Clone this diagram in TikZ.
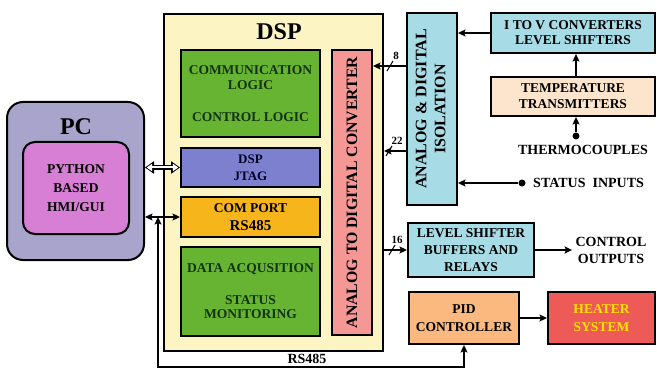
\documentclass[tikz,border=0pt]{standalone}
\usepackage{fontspec}
\setmainfont{Liberation Serif}
\usetikzlibrary{positioning,arrows.meta}

\definecolor{pcgray}{HTML}{A9A4CC}
\definecolor{guipink}{HTML}{D77FD4}
\definecolor{dspyel}{HTML}{FDF4C4}
\definecolor{logicgreen}{HTML}{66B432}
\definecolor{jtagblue}{HTML}{7C80CF}
\definecolor{comorange}{HTML}{F7B51C}
\definecolor{adcred}{HTML}{F59895}
\definecolor{isocyan}{HTML}{A7DCE6}
\definecolor{tempbeige}{HTML}{FDE4CC}
\definecolor{pidorange}{HTML}{FBB980}
\definecolor{heatred}{HTML}{EE5A57}
\definecolor{heatyel}{HTML}{FFE500}
\definecolor{darkgrn}{HTML}{143214}

\tikzset{
  blk/.style={draw, line width=2pt, align=center, inner sep=2pt,
    font=\bfseries\fontsize{13.5}{16}\selectfont},
  title/.style={font=\bfseries\fontsize{24}{26}\selectfont},
  lbl/.style={align=center, font=\bfseries\fontsize{14}{17}\selectfont},
  buslbl/.style={font=\bfseries\fontsize{11}{12}\selectfont},
  tip/.tip={Stealth[length=7.5pt,width=7pt,inset=1.5pt]},
  conn/.style={line width=1.5pt, -tip},
  both/.style={line width=1.5pt, tip-tip},
  dot/.style={circle, fill, inner sep=0pt, minimum size=7pt},
  busmark/.style={line width=1pt},
}

\begin{document}
\begin{tikzpicture}[x=1pt, y=-1pt]
\useasboundingbox (0,0) rectangle (657,369);

  % PC with the operator interface
  \node[blk, fill=pcgray, rounded corners=16pt, minimum width=137, minimum height=158] (pc) at (75.5,181) {};
  \node[title] (pctitle) at (76,127) {PC};
  \node[blk, fill=guipink, rounded corners=12pt, minimum width=106, minimum height=92,
    font=\bfseries\fontsize{13.5}{19}\selectfont] (gui) at (76,188) {PYTHON\\BASED\\HMI/GUI};

  % DSP and its blocks
  \node[blk, fill=dspyel, minimum width=219, minimum height=337] (dsp) at (273.5,182.5) {};
  \node[title] (dsptitle) at (279,32) {DSP};
  \node[blk, fill=logicgreen, text=darkgrn, minimum width=139, minimum height=87,
    font=\bfseries\fontsize{13.5}{15}\selectfont] (logic) at (250.5,93.5)
    {COMMUNICATION\\LOGIC\\[17pt]CONTROL LOGIC};
  \node[blk, fill=jtagblue, text=black!85!blue, minimum width=139, minimum height=39,
    font=\bfseries\fontsize{13}{17}\selectfont] (jtag) at (250.5,167.5) {DSP\\JTAG};
  \node[blk, fill=comorange, minimum width=139, minimum height=40,
    font=\bfseries\fontsize{13.5}{18}\selectfont] (com) at (250.5,217) {COM PORT\\{\fontsize{15}{18}\selectfont RS485}};
  \node[blk, fill=logicgreen, text=darkgrn, minimum width=139, minimum height=89,
    font=\bfseries\fontsize{13.5}{14}\selectfont] (daq) at (250.5,291.5)
    {DATA ACQUSITION\\[18pt]STATUS\\MONITORING};
  \node[blk, fill=adcred, minimum width=40, minimum height=285] (adc) at (352,192.5)
    {\rotatebox{90}{\fontsize{15.8}{17}\selectfont ANALOG TO DIGITAL CONVERTER}};

  % field side
  \node[blk, fill=isocyan, minimum width=50, minimum height=192] (iso) at (432,109)
    {\rotatebox{90}{\fontsize{16}{19}\selectfont\begin{tabular}{@{}c@{}}ANALOG \& DIGITAL\\ISOLATION\end{tabular}}};
  \node[blk, fill=isocyan, minimum width=164, minimum height=40,
    font=\bfseries\fontsize{13.5}{15}\selectfont] (itov) at (573,33) {I TO V CONVERTERS\\LEVEL SHIFTERS};
  \node[blk, fill=tempbeige, minimum width=164, minimum height=39] (temp) at (573,96.5) {TEMPERATURE\\TRANSMITTERS};
  \node[blk, fill=isocyan, minimum width=126, minimum height=54,
    font=\bfseries\fontsize{13.5}{17}\selectfont] (lvl) at (471,250) {LEVEL SHIFTER\\BUFFERS AND\\RELAYS};
  \node[blk, fill=pidorange, minimum width=110, minimum height=52,
    font=\bfseries\fontsize{13.5}{18}\selectfont] (pid) at (464,318) {PID\\CONTROLLER};
  \node[blk, fill=heatred, text=heatyel, minimum width=107, minimum height=52,
    font=\bfseries\fontsize{13.5}{18}\selectfont] (heat) at (601.5,318) {HEATER\\SYSTEM};

  % inputs and outputs
  \node[dot] (tc) at (576,136) {};
  \node[lbl, below=2pt of tc, xshift=7pt] (tclbl) {THERMOCOUPLES};
  \node[dot] (st) at (522,183) {};
  \node[lbl, right=4pt of st] (stlbl) {STATUS\ \ INPUTS};
  \node[lbl] (ctrl) at (611,250) {CONTROL\\OUTPUTS};

  % PC links
  \draw[line width=5pt, {Triangle[length=9pt,width=12pt]}-{Triangle[length=9pt,width=12pt]}]
    (pc.east |- jtag.west) -- (jtag.west);
  \draw[line width=2pt, white, shorten <=1.6pt, shorten >=1.6pt,
    {Triangle[length=5.5pt,width=7pt]}-{Triangle[length=5.5pt,width=7pt]}]
    (pc.east |- jtag.west) -- (jtag.west);
  \draw[both] (pc.east |- com.west) -- (com.west);
  \coordinate (rs) at (158,367);
  \draw[both]
    (rs |- com.west) -- (rs) -- node[lbl, above=-1pt, xshift=-4pt] {RS485} (rs -| pid.south) -- (pid.south);

  % isolation to DSP
  \coordinate (b8) at (390,66);
  \coordinate (b22) at (389,151);
  \coordinate (b16) at (392,250);
  \draw[conn] (iso.west |- b8) -- (adc.east |- b8);
  \draw[busmark] (b8) ++(-3,5) -- ++(6,-10);
  \node[buslbl, above=3pt of b8, xshift=6pt] {8};
  \draw[conn] (iso.west |- b22) -- (dsp.east |- b22);
  \draw[busmark] (b22) ++(-3,5) -- ++(6,-10);
  \node[buslbl, above=3pt of b22, xshift=8pt] {22};
  \draw[conn] (dsp.east |- b16) -- (lvl.west);
  \draw[busmark] (b16) ++(-3,5) -- ++(6,-10);
  \node[buslbl, above=3pt of b16, xshift=5pt] {16};

  % field signal chain
  \draw[conn] (itov.west) -- (iso.east |- itov.west);
  \draw[conn] (temp.north -| tc) -- (itov.south -| tc);
  \draw[conn] (tc) -- (temp.south -| tc);
  \draw[conn] (st) -- (iso.east |- st);
  \draw[conn] (lvl.east) -- (ctrl.west);
  \draw[conn] (pid.east) -- (heat.west);
\end{tikzpicture}
\end{document}
